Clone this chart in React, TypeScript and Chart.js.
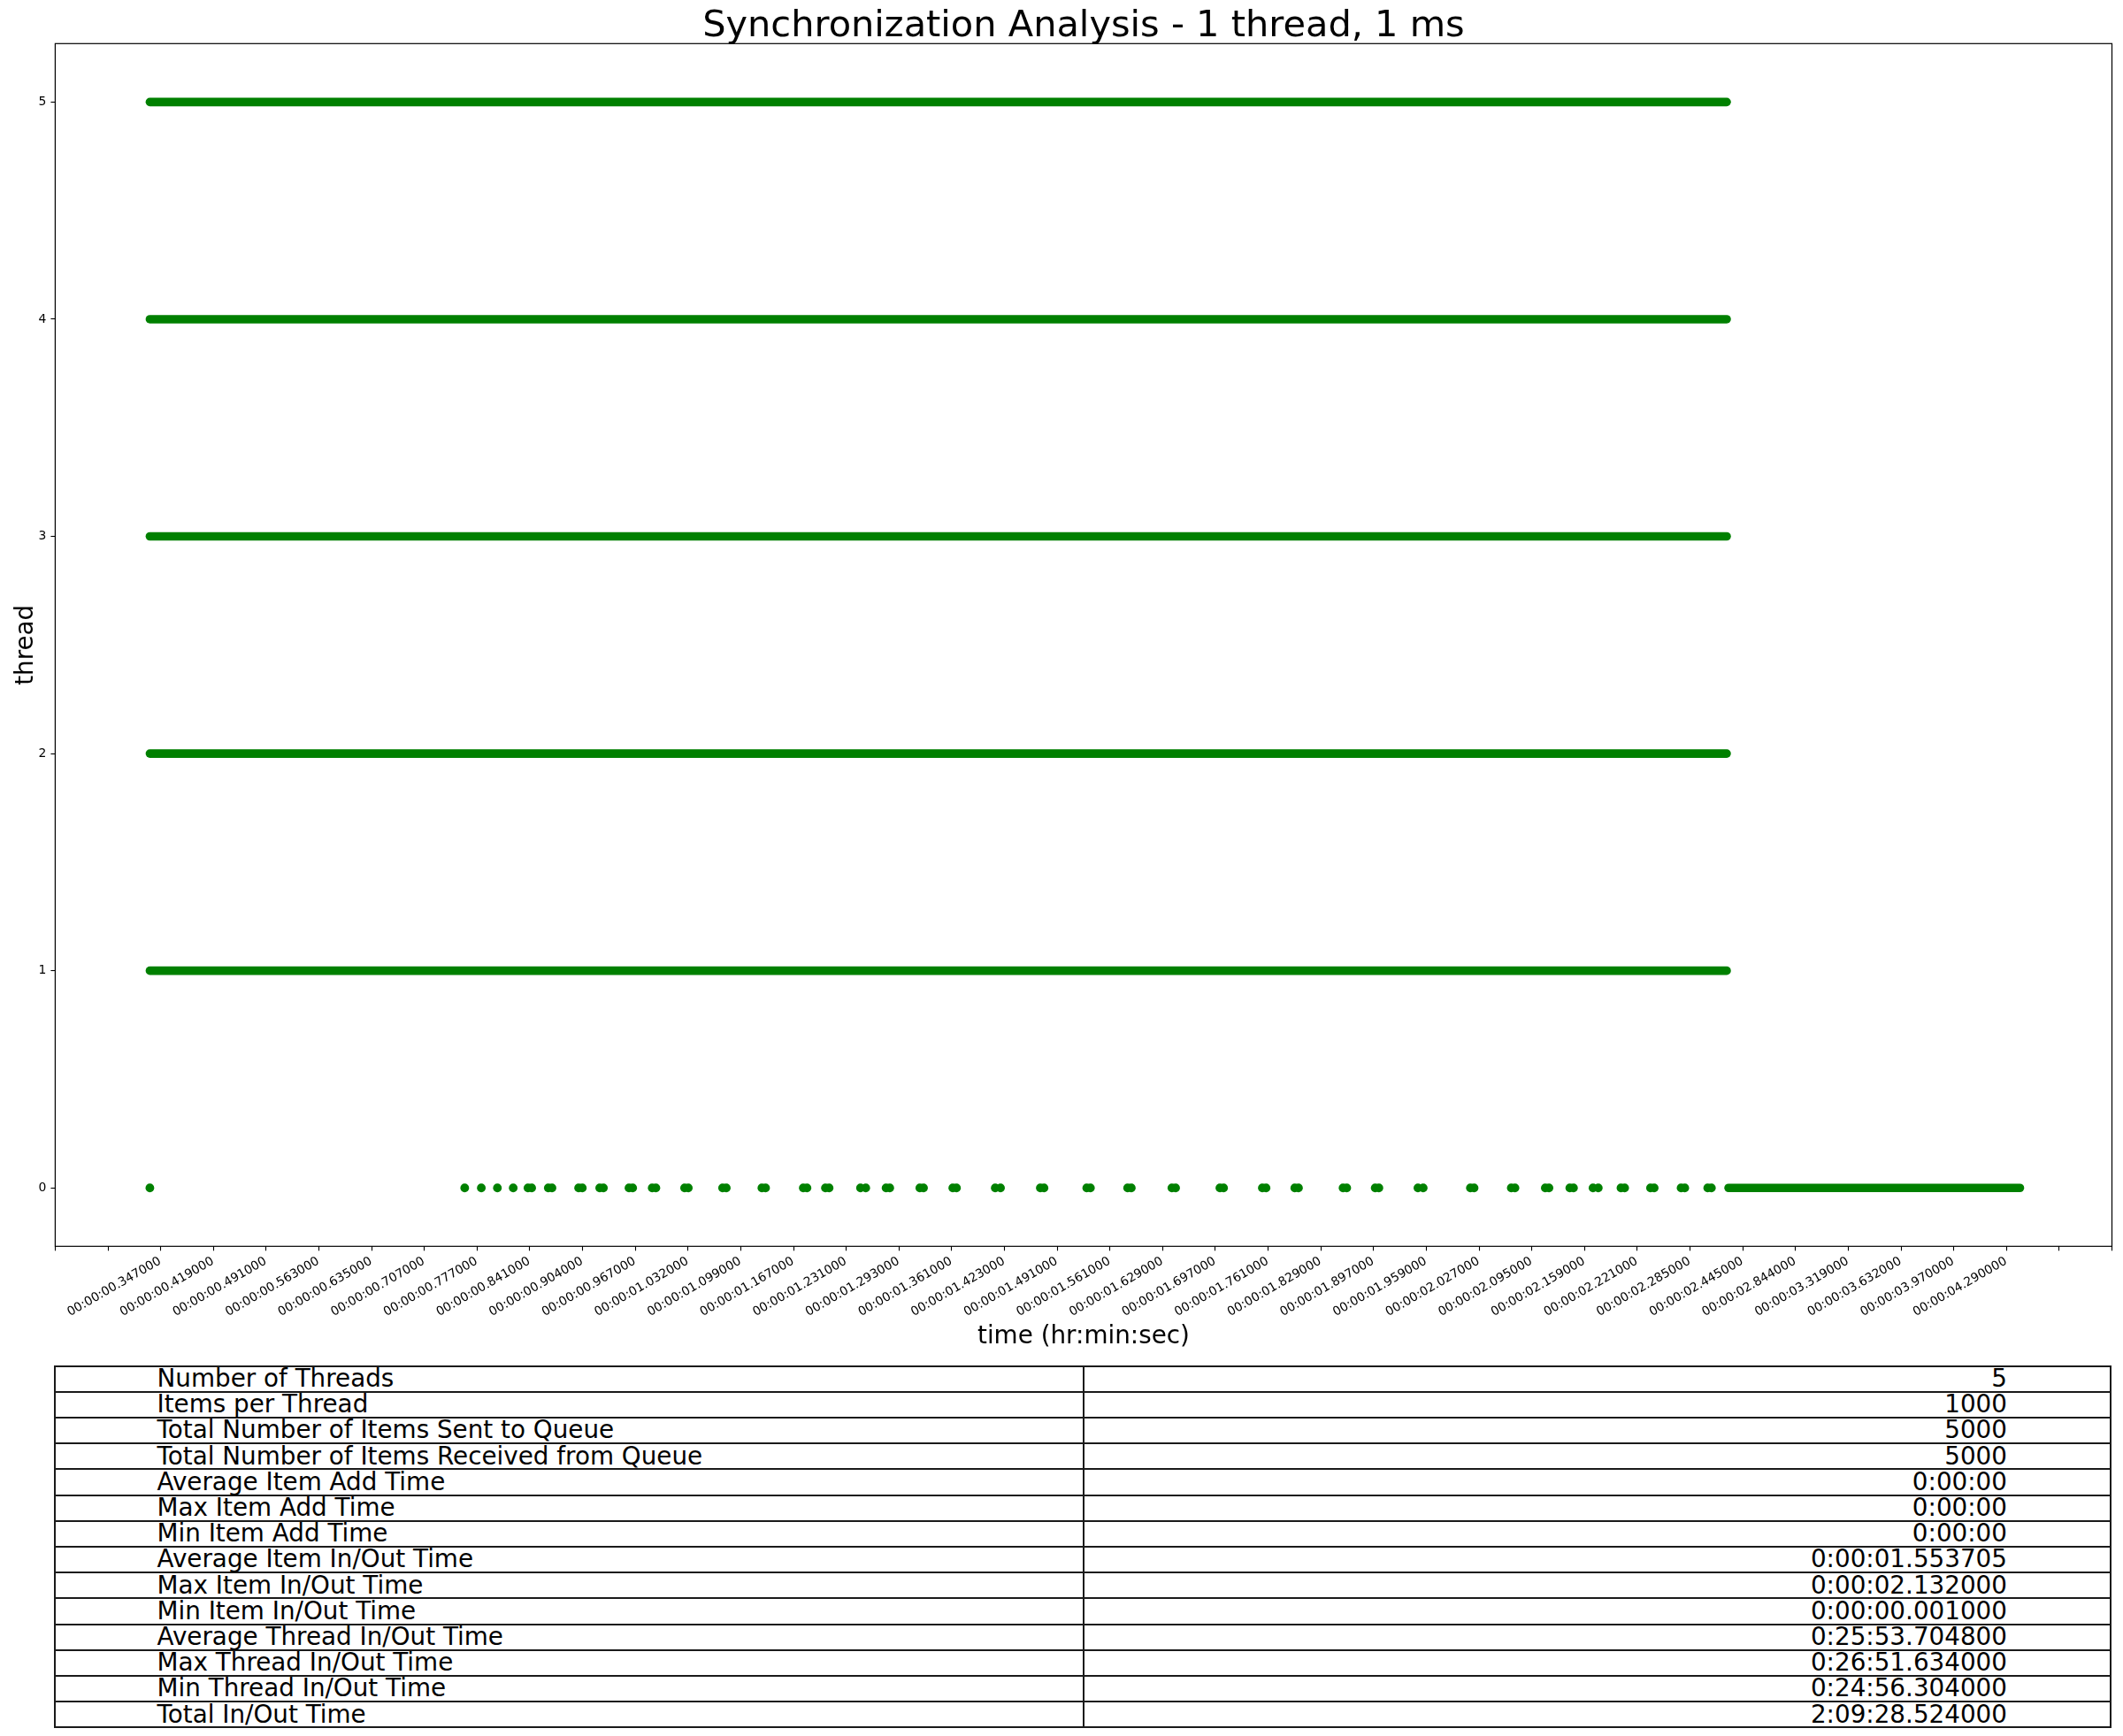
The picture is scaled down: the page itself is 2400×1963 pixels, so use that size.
import React, { useEffect, useRef } from 'react';
import { Chart, registerables } from 'chart.js';

Chart.register(...registerables);

const TITLE = 'Synchronization Analysis - 1 thread, 1 ms';
const X_TITLE = 'time (hr:min:sec)';
const Y_TITLE = 'thread';
const GREEN = '#008000';
const FONT = '"DejaVu Sans", "Liberation Sans", sans-serif';

// x tick labels (one per tick; blank ticks have no category)
const TICK_LABELS = [
  '', '',
  '00:00:00.347000', '00:00:00.419000', '00:00:00.491000', '00:00:00.563000',
  '00:00:00.635000', '00:00:00.707000', '00:00:00.777000', '00:00:00.841000',
  '00:00:00.904000', '00:00:00.967000', '00:00:01.032000', '00:00:01.099000',
  '00:00:01.167000', '00:00:01.231000', '00:00:01.293000', '00:00:01.361000',
  '00:00:01.423000', '00:00:01.491000', '00:00:01.561000', '00:00:01.629000',
  '00:00:01.697000', '00:00:01.761000', '00:00:01.829000', '00:00:01.897000',
  '00:00:01.959000', '00:00:02.027000', '00:00:02.095000', '00:00:02.159000',
  '00:00:02.221000', '00:00:02.285000', '00:00:02.445000', '00:00:02.844000',
  '00:00:03.319000', '00:00:03.632000', '00:00:03.970000', '00:00:04.290000',
  '', '',
];
const X_MIN = -40;
const X_MAX = 740;
const TICK_STEP = 20;

const Y_TICKS = [0, 1, 2, 3, 4, 5];

// continuous runs of events per thread (category positions)
const THREADS = [0, 1, 2, 3, 4, 5];
const RUN_START = [594.6, -4.1, -4.1, -4.1, -4.1, -4.1];
const RUN_END = [705.1, 593.9, 593.9, 593.9, 593.9, 593.9];

// isolated events of thread 0 (category positions)
const THREAD0_SPARSE = [
  -4.1, 115.3, 121.6, 127.7, 133.7,
  139.3, 140.7, 147.0, 148.4, 158.5, 159.9, 166.5, 167.9, 177.6, 179.0,
  186.4, 187.8, 198.7, 200.1, 213.1, 214.5, 228.0, 229.4, 243.7, 245.1,
  252.1, 253.5, 265.4, 267.4, 275.1, 276.5, 287.9, 289.3, 300.4, 301.8,
  316.5, 318.5, 333.6, 335.0, 351.2, 352.6, 366.7, 368.1, 383.5, 384.9,
  401.7, 403.1, 417.8, 419.2, 430.1, 431.5, 448.4, 449.8, 460.6, 462.0,
  476.8, 478.8, 496.7, 498.1, 512.2, 513.6, 525.1, 526.5, 534.4, 535.8,
  543.2, 545.2, 553.8, 555.2, 565.0, 566.4, 576.6, 578.0, 586.7, 588.1,
];

const TABLE_LABELS = [
  'Number of Threads',
  'Items per Thread',
  'Total Number of Items Sent to Queue',
  'Total Number of Items Received from Queue',
  'Average Item Add Time',
  'Max Item Add Time',
  'Min Item Add Time',
  'Average Item In/Out Time',
  'Max Item In/Out Time',
  'Min Item In/Out Time',
  'Average Thread In/Out Time',
  'Max Thread In/Out Time',
  'Min Thread In/Out Time',
  'Total In/Out Time',
];
const TABLE_VALUES = [
  '5', '1000', '5000', '5000', '0:00:00', '0:00:00', '0:00:00',
  '0:00:01.553705', '0:00:02.132000', '0:00:00.001000', '0:25:53.704800',
  '0:26:51.634000', '0:24:56.304000', '2:09:28.524000',
];

const CANVAS_W = 2400;
const CANVAS_H = 1540;
const AREA = { left: 62.4, top: 49.3, right: 2387.5, bottom: 1409.3 };
const TABLE = { left: 62, top: 1544.5, right: 2386, rowH: 29.2, divider: 1225, textLeft: 177.5, textRight: 2269 };
const TICK_FONT = 13.9;

const overlayPlugin = {
  id: 'overlay',
  afterDatasetsDraw(chart: any) {
    const { ctx, chartArea } = chart;
    const xs = chart.scales.x;
    ctx.save();
    // frame
    ctx.strokeStyle = '#000';
    ctx.lineWidth = 1.2;
    ctx.strokeRect(chartArea.left, chartArea.top, chartArea.right - chartArea.left, chartArea.bottom - chartArea.top);
    // x tick labels, rotated 30 degrees, right end at the tick
    ctx.fillStyle = '#000';
    ctx.font = `${TICK_FONT}px ${FONT}`;
    ctx.textAlign = 'right';
    ctx.textBaseline = 'top';
    TICK_LABELS.forEach((lab, i) => {
      if (!lab) return;
      const px = xs.getPixelForValue(X_MIN + i * TICK_STEP);
      ctx.save();
      ctx.translate(px - 4, chartArea.bottom + 10);
      ctx.rotate(-Math.PI / 6);
      ctx.fillText(lab, 0, 0);
      ctx.restore();
    });
    // title
    ctx.textAlign = 'center';
    ctx.textBaseline = 'alphabetic';
    ctx.font = `41.5px ${FONT}`;
    const cx = (chartArea.left + chartArea.right) / 2;
    ctx.fillText(TITLE, cx, chartArea.top - 8.3);
    // x axis title
    ctx.font = `27.8px ${FONT}`;
    ctx.fillText(X_TITLE, cx, 1518.5);
    // y axis title
    ctx.save();
    ctx.translate(37, (chartArea.top + chartArea.bottom) / 2);
    ctx.rotate(-Math.PI / 2);
    ctx.fillText(Y_TITLE, 0, 0);
    ctx.restore();
    ctx.restore();
  },
};

function ChartCanvas() {
  const ref = useRef<HTMLCanvasElement | null>(null);
  useEffect(() => {
    if (!ref.current) return;
    const runDatasets = THREADS.map((t, i) => ({
      data: [
        { x: RUN_START[i], y: t },
        { x: RUN_END[i], y: t },
      ],
      showLine: true,
      borderColor: GREEN,
      backgroundColor: GREEN,
      borderWidth: 9.6,
      borderCapStyle: 'round' as const,
      pointRadius: 0,
      pointHoverRadius: 0,
    }));
    const sparse = {
      data: THREAD0_SPARSE.map((x) => ({ x, y: 0 })),
      showLine: false,
      backgroundColor: GREEN,
      borderColor: GREEN,
      borderWidth: 0,
      pointRadius: 4.9,
      pointHoverRadius: 4.9,
    };
    const chart = new Chart(ref.current, {
      type: 'scatter',
      data: { datasets: [...runDatasets, sparse] as any },
      options: {
        responsive: false,
        animation: false,
        devicePixelRatio: 1,
        events: [],
        layout: { padding: { left: 0, top: AREA.top, right: CANVAS_W - AREA.right, bottom: 0 } },
        plugins: { legend: { display: false }, title: { display: false }, tooltip: { enabled: false } },
        scales: {
          x: {
            type: 'linear',
            min: X_MIN,
            max: X_MAX,
            afterBuildTicks: (s: any) => {
              s.ticks = TICK_LABELS.map((_, i) => ({ value: X_MIN + i * TICK_STEP }));
            },
            afterFit: (s: any) => {
              s.height = CANVAS_H - AREA.bottom;
            },
            ticks: { display: false },
            border: { display: false },
            grid: {
              display: true,
              drawOnChartArea: false,
              drawTicks: true,
              tickLength: 5,
              tickColor: '#000',
              tickWidth: 1.1,
            },
          },
          y: {
            type: 'linear',
            min: -0.269,
            max: 5.269,
            afterBuildTicks: (s: any) => {
              s.ticks = Y_TICKS.map((v) => ({ value: v }));
            },
            afterFit: (s: any) => {
              s.width = AREA.left;
            },
            ticks: {
              color: '#000',
              font: { family: FONT, size: TICK_FONT },
              padding: 5,
              callback: (v: any) => String(v),
            },
            border: { display: false },
            grid: {
              display: true,
              drawOnChartArea: false,
              drawTicks: true,
              tickLength: 5,
              tickColor: '#000',
              tickWidth: 1.1,
            },
          },
        },
      },
      plugins: [overlayPlugin],
    });
    return () => chart.destroy();
  }, []);
  return (
    <canvas
      ref={ref}
      width={CANVAS_W}
      height={CANVAS_H}
      style={{ position: 'absolute', left: 0, top: 0, width: CANVAS_W, height: CANVAS_H }}
    />
  );
}

function StatsTable() {
  const n = TABLE_LABELS.length;
  const width = TABLE.right - TABLE.left + 2;
  const rowTop = (i: number) => Math.round(TABLE.top + i * TABLE.rowH);
  const height = rowTop(n) - rowTop(0);
  const lines = [];
  for (let i = 0; i <= n; i++) {
    lines.push(
      <div
        key={'h' + i}
        style={{
          position: 'absolute',
          left: TABLE.left - 1,
          top: rowTop(i) - 1,
          width,
          height: 2,
          background: '#1a1a1a',
        }}
      />
    );
  }
  const vlines = [TABLE.left, TABLE.divider, TABLE.right].map((x, i) => (
    <div
      key={'v' + i}
      style={{
        position: 'absolute',
        left: x - 1,
        top: rowTop(0) - 1,
        width: 2,
        height: height + 2,
        background: '#1a1a1a',
      }}
    />
  ));
  const textStyle: React.CSSProperties = {
    position: 'absolute',
    fontFamily: FONT,
    fontSize: 27.8,
    lineHeight: `${TABLE.rowH}px`,
    height: TABLE.rowH,
    whiteSpace: 'nowrap',
    color: '#000',
  };
  return (
    <>
      {lines}
      {vlines}
      {TABLE_LABELS.map((lab, i) => (
        <div key={'l' + i} style={{ ...textStyle, left: TABLE.textLeft, top: TABLE.top + i * TABLE.rowH - 0.6 }}>
          {lab}
        </div>
      ))}
      {TABLE_VALUES.map((val, i) => (
        <div
          key={'r' + i}
          style={{
            ...textStyle,
            left: TABLE.divider,
            width: TABLE.textRight - TABLE.divider,
            textAlign: 'right',
            top: TABLE.top + i * TABLE.rowH - 0.6,
          }}
        >
          {val}
        </div>
      ))}
    </>
  );
}

export default function App() {
  return (
    <div
      style={{
        position: 'absolute',
        left: 0,
        top: 0,
        width: 2400,
        height: 1963,
        background: '#fff',
        overflow: 'hidden',
      }}
    >
      <ChartCanvas />
      <StatsTable />
    </div>
  );
}
